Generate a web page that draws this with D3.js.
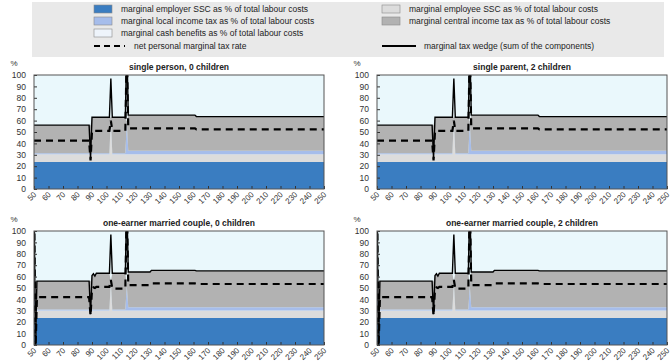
<!DOCTYPE html>
<html><head><meta charset="utf-8">
<script src="https://cdn.jsdelivr.net/npm/d3@7"></script>
<style>
body{margin:0;background:#fff;}
svg{display:block;font-family:"Liberation Sans",Arial,sans-serif;}
</style></head><body>
<svg id="chart" width="671" height="362"></svg>
<script>
// Income level (% of average wage) and the marginal rates at each level.
const xTicks = d3.range(50, 251, 10);
const yTicks = d3.range(0, 101, 10);

// single person / single parent
const incomeSingle      = [50, 88, 89, 90, 102, 103, 104, 113, 114, 115, 161, 162, 250];
const employerSSCSingle = [23.7, 23.7, 23.7, 23.7, 23.7, 23.7, 23.7, 23.7, 23.7, 23.7, 23.7, 23.7, 23.7];
const employeeSSCSingle = [6.7, 6.7, 6.7, 6.7, 6.7, 38, 6.7, 6.7, 6.7, 6.7, 6.7, 6.7, 6.7];
const localTaxSingle    = [1.0, 1.0, 1.0, 1.0, 1.0, 1.0, 1.0, 1.0, 28.6, 3.1, 3.1, 3.1, 3.1];
const centralTaxSingle  = [24.6, 24.6, 24.6, 31.6, 31.6, 0, 31.6, 31.6, 0, 31.3, 31.3, 30.0, 30.0];
const cashBenefitSingle = [0, 0, 0, 0, 0, 0, 0, 0, 0, 0, 0, 0, 0];
const wedgeSingle       = [56, 56, 27, 63, 63, 97, 63, 63, 130, 64.8, 64.8, 63.5, 63.5];
const netRateSingle     = [42.5, 42.5, 25, 51, 51, 60, 51, 51, 125, 53.2, 53.2, 52.3, 52.3];

// one-earner married couple
const incomeCouple      = [50, 51, 52, 88, 89, 90, 91, 92, 93, 102, 103, 104, 113, 114, 115, 130, 131, 161, 162, 250];
const employerSSCCouple = [23.7, 23.7, 23.7, 23.7, 23.7, 23.7, 23.7, 23.7, 23.7, 23.7, 23.7, 23.7, 23.7, 23.7, 23.7, 23.7, 23.7, 23.7, 23.7, 23.7];
const employeeSSCCouple = [6.5, 6.5, 6.5, 6.5, 6.5, 6.5, 6.5, 6.5, 6.5, 6.5, 31, 6.5, 6.5, 6.5, 6.5, 6.5, 6.5, 6.5, 6.5, 6.5];
const localTaxCouple    = [25, 1.0, 1.0, 1.0, 1.0, 1.0, 1.0, 1.0, 1.0, 1.0, 1.0, 1.0, 1.0, 22, 3.0, 3.0, 3.0, 3.0, 3.0, 3.0];
const centralTaxCouple  = [0, 24.8, 24.8, 24.8, 24.8, 29.8, 31.3, 29.3, 31.8, 31.8, 0, 31.8, 31.8, 0, 30.8, 30.8, 32.3, 32.3, 31.8, 31.8];
const cashBenefitCouple = [0, 0, 0, 0, 0, 0, 0, 0, 0, 0, 0, 0, 0, 0, 0, 0, 0, 0, 0, 0];
const wedgeCouple       = [140, -5, 56, 56, 27, 61, 62.5, 60.5, 63, 63, 97, 63, 63, 130, 64, 64, 65.5, 65.5, 65, 65];
const netRateCouple     = [140, -8, 42, 42, 26, 49, 50.5, 50, 51, 51, 57, 49.5, 49.5, 125, 52.5, 52.5, 54, 54, 53.5, 53.5];

const panelTitles = ["single person, 0 children", "single parent, 2 children",
                     "one-earner married couple, 0 children", "one-earner married couple, 2 children"];

const seriesKeys = ["employerSSC", "employeeSSC", "localTax", "centralTax", "cashBenefit"];
const seriesLabels = {
  employerSSC: "marginal employer SSC as % of total labour costs",
  employeeSSC: "marginal employee SSC as % of total labour costs",
  localTax: "marginal local income tax as % of total labour costs",
  centralTax: "marginal central income tax as % of total labour costs",
  cashBenefit: "marginal cash benefits  as % of total labour costs"
};
const netLabel = "net personal marginal tax rate";
const wedgeLabel = "marginal tax wedge (sum of the components)";

const colors = {
  employerSSC: "#3a7dc1",
  employeeSSC: "#dcdcdc",
  localTax: "#a6bdeb",
  centralTax: "#b2b2b2",
  cashBenefit: "#eef4fb"
};
const plotBg = "#eaf8fc";

function buildRows(income, er, ee, loc, cen, cash, wedge, net) {
  return income.map((x, i) => ({
    income: x, employerSSC: er[i], employeeSSC: ee[i], localTax: loc[i],
    centralTax: cen[i], cashBenefit: cash[i], wedge: wedge[i], net: net[i]
  }));
}
const singleRows = buildRows(incomeSingle, employerSSCSingle, employeeSSCSingle, localTaxSingle,
  centralTaxSingle, cashBenefitSingle, wedgeSingle, netRateSingle);
const coupleRows = buildRows(incomeCouple, employerSSCCouple, employeeSSCCouple, localTaxCouple,
  centralTaxCouple, cashBenefitCouple, wedgeCouple, netRateCouple);

const panels = [
  {title: panelTitles[0], rows: singleRows, left: 34,  top: 75},
  {title: panelTitles[1], rows: singleRows, left: 377, top: 75},
  {title: panelTitles[2], rows: coupleRows, left: 34,  top: 231},
  {title: panelTitles[3], rows: coupleRows, left: 377, top: 231}
];
const plotW = 290, plotH = 114;

const svg = d3.select("#chart");

// legend
const legend = svg.append("g");
legend.append("rect").attr("x", 32).attr("y", 2).attr("width", 632).attr("height", 55).attr("fill", "#e9e9e9");
const legendItems = [
  {key: "employerSSC", x: 94,  y: 9},
  {key: "employeeSSC", x: 382, y: 9},
  {key: "localTax",    x: 94,  y: 21},
  {key: "centralTax",  x: 382, y: 21},
  {key: "cashBenefit", x: 94,  y: 33}
];
legendItems.forEach(d => {
  legend.append("rect").attr("x", d.x).attr("y", d.y - 4).attr("width", 18).attr("height", 8)
    .attr("fill", colors[d.key]).attr("stroke", "#8a8a8a").attr("stroke-width", 0.6);
  legend.append("text").attr("x", d.x + 27).attr("y", d.y).attr("dy", "0.35em")
    .attr("font-size", 8.5).attr("fill", "#222").text(seriesLabels[d.key]);
});
legend.append("line").attr("x1", 94).attr("x2", 125).attr("y1", 46).attr("y2", 46)
  .attr("stroke", "#000").attr("stroke-width", 2.2).attr("stroke-dasharray", "6,4");
legend.append("text").attr("x", 134).attr("y", 46).attr("dy", "0.35em").attr("font-size", 8.5).attr("fill", "#222").text(netLabel);
legend.append("line").attr("x1", 382).attr("x2", 416).attr("y1", 46).attr("y2", 46)
  .attr("stroke", "#000").attr("stroke-width", 2);
legend.append("text").attr("x", 424).attr("y", 46).attr("dy", "0.35em").attr("font-size", 8.5).attr("fill", "#222").text(wedgeLabel);

const stack = d3.stack().keys(seriesKeys);

panels.forEach((p, pi) => {
  const g = svg.append("g").attr("transform", `translate(${p.left},${p.top})`);
  const x = d3.scaleLinear().domain([50, 250]).range([0, plotW]);
  const y = d3.scaleLinear().domain([0, 100]).range([plotH, 0]);

  const clipId = "clip" + pi;
  g.append("clipPath").attr("id", clipId).append("rect").attr("width", plotW).attr("height", plotH);

  g.append("rect").attr("width", plotW).attr("height", plotH).attr("fill", plotBg);

  const body = g.append("g").attr("clip-path", `url(#${clipId})`);
  const area = d3.area().x(d => x(d.data.income)).y0(d => y(d[0])).y1(d => y(d[1]));
  body.selectAll("path.layer").data(stack(p.rows)).join("path")
    .attr("class", "layer").attr("fill", d => colors[d.key]).attr("d", area);

  const lineGen = key => d3.line().x(d => x(d.income)).y(d => y(d[key]));
  body.append("path").datum(p.rows).attr("fill", "none").attr("stroke", "#000")
    .attr("stroke-width", 1.4).attr("d", lineGen("wedge"));
  body.append("path").datum(p.rows).attr("fill", "none").attr("stroke", "#000")
    .attr("stroke-width", 2.2).attr("stroke-dasharray", "7,5").attr("d", lineGen("net"));

  // y axis, ticks pointing inward
  const ya = g.append("g").call(d3.axisLeft(y).tickValues(yTicks).tickSizeInner(-3).tickSizeOuter(0).tickPadding(8));
  ya.select(".domain").remove();
  ya.selectAll("line").attr("stroke", "#333");
  ya.selectAll("text").attr("font-size", 8.5).attr("fill", "#333");

  // x axis, ticks inward; labels set at 45 degrees
  const xa = g.append("g").attr("transform", `translate(0,${plotH})`)
    .call(d3.axisBottom(x).tickValues(xTicks).tickSizeInner(-3).tickSizeOuter(0).tickFormat(""));
  xa.select(".domain").remove();
  xa.selectAll("line").attr("stroke", "#333");
  g.append("g").selectAll("text").data(xTicks).join("text")
    .attr("transform", v => `translate(${x(v) + 1},${plotH + 4}) rotate(-45)`)
    .attr("text-anchor", "end").attr("dy", "0.35em")
    .attr("font-size", 8).attr("fill", "#333").text(d3.format("d"));

  g.append("rect").attr("width", plotW).attr("height", plotH).attr("fill", "none")
    .attr("stroke", "#555").attr("stroke-width", 1);

  g.append("text").attr("x", plotW / 2).attr("y", -5).attr("text-anchor", "middle")
    .attr("font-size", 8.5).attr("font-weight", "bold").attr("fill", "#222").text(p.title);
  g.append("text").attr("x", -20).attr("y", -9).attr("text-anchor", "middle")
    .attr("font-size", 8).attr("fill", "#333").text("%");
});
</script>
</body></html>
